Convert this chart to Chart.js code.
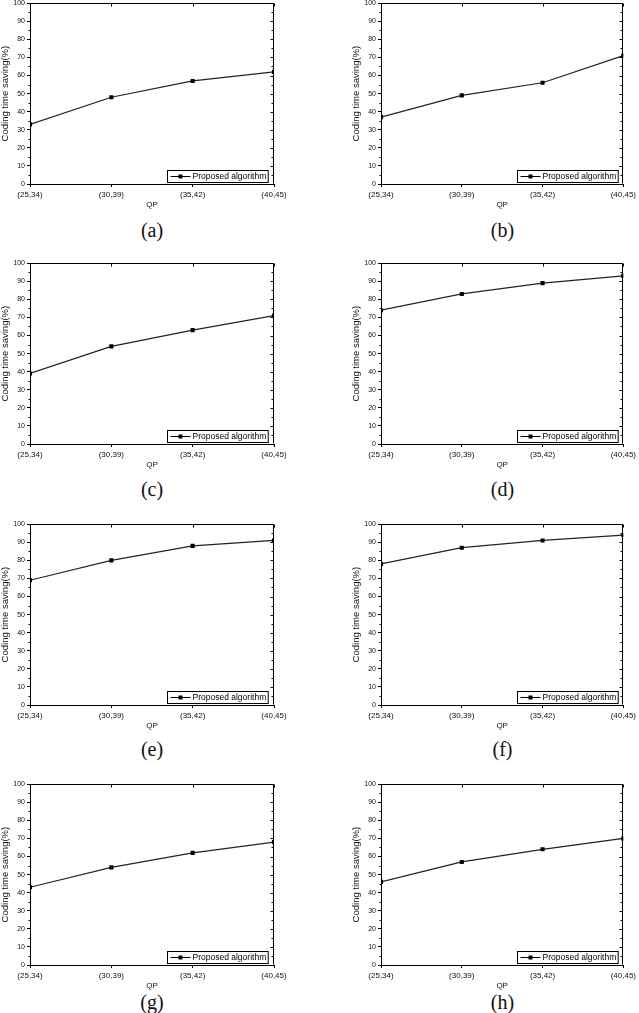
<!DOCTYPE html>
<html>
<head>
<meta charset="utf-8">
<script src="https://cdn.jsdelivr.net/npm/chart.js@4.4.1/dist/chart.umd.min.js"></script>
<style>
  body { margin: 0; background: #fff; width: 639px; height: 1013px; position: relative; overflow: hidden; }
  .panel { position: absolute; }
  .caption { position: absolute; width: 60px; text-align: center; font: 20px 'Liberation Serif', 'Times New Roman', serif; line-height: 20px; color: #111; }
</style>
</head>
<body>
<script>
// values
const qpLabels = ['(25,34)', '(30,39)', '(35,42)', '(40,45)'];
const savingA = [33, 48, 57, 62];
const savingB = [37, 49, 56, 71];
const savingC = [39, 54, 63, 71];
const savingD = [74, 83, 89, 93];
const savingE = [69, 80, 88, 91];
const savingF = [78, 87, 91, 94];
const savingG = [43, 54, 62, 68];
const savingH = [46, 57, 64, 70];
const panelNames = ['(a)', '(b)', '(c)', '(d)', '(e)', '(f)', '(g)', '(h)'];
const seriesName = 'Proposed algorithm';
const yMin = 0, yMax = 100, yStep = 10;

const allSeries = [savingA, savingB, savingC, savingD, savingE, savingF, savingG, savingH];

const FONT = "'Liberation Sans', Arial, sans-serif";
const rowTops = [3, 263, 524, 784];
const plotH = 181;
const captionY = [232, 491, 751, 1004];

// box around plot area + mirrored / minor ticks
const frame = {
  id: 'frame',
  afterDraw(chart) {
    const { ctx, chartArea: a, scales: { x, y } } = chart;
    ctx.save();
    ctx.strokeStyle = '#000';
    ctx.lineWidth = 1;
    ctx.beginPath();
    const L = Math.round(a.left) + 0.5, R = Math.round(a.right) - 0.5;
    const T = Math.round(a.top) + 0.5, B = Math.round(a.bottom) - 0.5;
    ctx.moveTo(L, T); ctx.lineTo(R, T); ctx.lineTo(R, B);
    for (let v = yMin; v <= yMax; v += yStep / 2) {
      const py = Math.round(y.getPixelForValue(v)) + 0.5;
      const len = v % yStep ? 2 : 3;
      if (v % yStep) { ctx.moveTo(L, py); ctx.lineTo(L - len, py); }
      ctx.moveTo(R, py); ctx.lineTo(R - len, py);
    }
    x.ticks.forEach((t, i) => {
      const px = Math.round(x.getPixelForTick(i)) + 0.5;
      ctx.moveTo(px, T); ctx.lineTo(px, T + 3);
    });
    ctx.stroke();
    ctx.restore();
  }
};

// small boxed legend in the lower right corner of the plot
const boxLegend = {
  id: 'boxLegend',
  afterDatasetsDraw(chart) {
    const { ctx, chartArea: a } = chart;
    const label = chart.data.datasets[0].label;
    ctx.save();
    ctx.font = '8.5px ' + FONT;
    const tw = ctx.measureText(label).width;
    const w = 3 + 20 + 2 + tw + 2, h = 12;
    const x0 = Math.round(a.right - 6 - w) + 0.5, y0 = Math.round(a.bottom - 2 - h) + 0.5;
    ctx.fillStyle = '#fff';
    ctx.fillRect(x0, y0, w, h);
    ctx.strokeStyle = '#000';
    ctx.lineWidth = 1;
    ctx.strokeRect(x0, y0, w, h);
    const my = y0 + h / 2;
    ctx.beginPath();
    ctx.moveTo(x0 + 3, my); ctx.lineTo(x0 + 23, my);
    ctx.stroke();
    ctx.fillStyle = '#000';
    ctx.fillRect(x0 + 11, my - 2, 4, 4);
    ctx.textBaseline = 'middle';
    ctx.fillText(label, x0 + 25, my + 0.5);
    ctx.restore();
  }
};

allSeries.forEach((values, i) => {
  const col = i % 2, row = Math.floor(i / 2);
  const left = col === 0 ? 0 : 351;
  const width = col === 0 ? 320 : 288;
  const padRight = col === 0 ? 46 : 15;
  const top = rowTops[row] - 6;
  const height = 6 + plotH + 26;

  const div = document.createElement('div');
  div.className = 'panel';
  div.style.left = left + 'px';
  div.style.top = top + 'px';
  const canvas = document.createElement('canvas');
  canvas.width = width;
  canvas.height = height;
  canvas.style.width = width + 'px';
  canvas.style.height = height + 'px';
  div.appendChild(canvas);
  document.body.appendChild(div);

  new Chart(canvas, {
    type: 'line',
    data: {
      labels: qpLabels,
      datasets: [{
        label: seriesName,
        data: values,
        borderColor: '#222',
        borderWidth: 1.2,
        tension: 0,
        fill: false,
        clip: 0,
        pointStyle: 'rect',
        pointRadius: 2.9,
        pointBackgroundColor: '#000',
        pointBorderColor: '#000',
        pointBorderWidth: 0
      }]
    },
    options: {
      responsive: false,
      animation: false,
      devicePixelRatio: 1,
      events: [],
      layout: { padding: { top: 6, right: padRight, bottom: 0, left: 0 } },
      plugins: { legend: { display: false }, tooltip: { enabled: false } },
      scales: {
        x: {
          offset: false,
          grid: { drawOnChartArea: false, drawTicks: true, tickLength: 3, color: '#000' },
          border: { display: true, color: '#000', width: 1 },
          ticks: { autoSkip: false, maxRotation: 0, padding: 3, color: '#111', font: { family: FONT, size: 8 } },
          title: { display: true, text: 'QP', color: '#111', padding: 0, font: { family: FONT, size: 8 } },
          afterFit(scale) { scale.height = 26; }
        },
        y: {
          min: yMin,
          max: yMax,
          grid: { drawOnChartArea: false, drawTicks: true, tickLength: 3, color: '#000' },
          border: { display: true, color: '#000', width: 1 },
          ticks: { stepSize: yStep, padding: 2, color: '#111', font: { family: FONT, size: 7 } },
          title: { display: true, text: 'Coding time saving(%)', color: '#111', padding: 0, font: { family: FONT, size: 9.5 } },
          afterFit(scale) { scale.width = 30; }
        }
      }
    },
    plugins: [frame, boxLegend]
  });

  const cap = document.createElement('div');
  cap.className = 'caption';
  const plotCenter = left + 30 + (width - padRight - 30) / 2;
  cap.style.left = (plotCenter - 30) + 'px';
  cap.style.top = (captionY[row] - 12) + 'px';
  cap.textContent = panelNames[i];
  document.body.appendChild(cap);
});
</script>
</body>
</html>
